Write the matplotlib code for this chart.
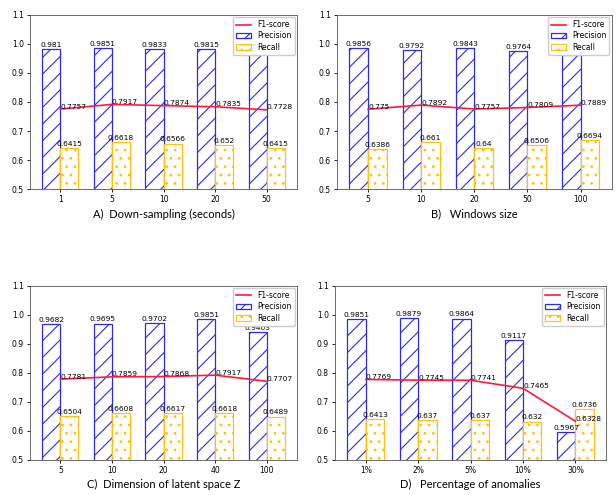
import numpy as np
import matplotlib.pyplot as plt

# panel A
a_ticks = ['1', '5', '10', '20', '50']
a_prec = [0.981, 0.9851, 0.9833, 0.9815, 0.975]
a_f1 = [0.7757, 0.7917, 0.7874, 0.7835, 0.7728]
a_rec = [0.6415, 0.6618, 0.6566, 0.652, 0.6415]

# panel B
b_ticks = ['5', '10', '20', '50', '100']
b_prec = [0.9856, 0.9792, 0.9843, 0.9764, 0.962]
b_f1 = [0.775, 0.7892, 0.7757, 0.7809, 0.7889]
b_rec = [0.6386, 0.661, 0.64, 0.6506, 0.6694]

# panel C
c_ticks = ['5', '10', '20', '40', '100']
c_prec = [0.9682, 0.9695, 0.9702, 0.9851, 0.9403]
c_f1 = [0.7781, 0.7859, 0.7868, 0.7917, 0.7707]
c_rec = [0.6504, 0.6608, 0.6617, 0.6618, 0.6489]

# panel D
d_ticks = ['1%', '2%', '5%', '10%', '30%']
d_prec = [0.9851, 0.9879, 0.9864, 0.9117, 0.5967]
d_f1 = [0.7769, 0.7745, 0.7741, 0.7465, 0.6328]
d_rec = [0.6413, 0.637, 0.637, 0.632, 0.6736]

titles = ['A)  Down-sampling (seconds)', 'B)   Windows size',
          'C)  Dimension of latent space Z', 'D)   Percentage of anomalies']

panels = [(a_ticks, a_prec, a_f1, a_rec),
          (b_ticks, b_prec, b_f1, b_rec),
          (c_ticks, c_prec, c_f1, c_rec),
          (d_ticks, d_prec, d_f1, d_rec)]

positions = [[0.049, 0.618, 0.433, 0.352],
             [0.547, 0.618, 0.446, 0.352],
             [0.049, 0.071, 0.433, 0.352],
             [0.544, 0.071, 0.440, 0.352]]

plt.rcParams['hatch.linewidth'] = 0.8
gold = '#FFC20E'
blue = '#2B2BE8'

fig = plt.figure(figsize=(6.16, 4.95), dpi=100)

for k in range(4):
    ticks, prec, f1, rec = panels[k]
    ax = fig.add_axes(positions[k])
    x = np.arange(len(ticks))
    w = 0.35
    bp = ax.bar(x, prec, width=-w, align='edge', color='white',
                edgecolor=blue, hatch='//', linewidth=0.9, label='Precision')
    br = ax.bar(x, rec, width=w, align='edge', color='white',
                edgecolor=gold, hatch='..', linewidth=0.9, label='Recall')
    ln, = ax.plot(x, f1, color='#FF1A3C', linewidth=1.2, label='F1-score', zorder=3)

    for i in range(len(x)):
        ax.text(x[i] - w / 2, prec[i] + 0.004, str(prec[i]), ha='center',
                va='bottom', fontsize=5.4)
        ax.text(x[i] + w / 2, rec[i] + 0.004, str(rec[i]), ha='center',
                va='bottom', fontsize=5.4)
        ax.text(x[i], f1[i] - 0.002, str(f1[i]), ha='left', va='bottom',
                fontsize=5.4)

    ax.set_ylim(0.5, 1.1)
    ax.set_yticks(np.arange(0.5, 1.11, 0.1))
    ax.set_yticklabels(['0.5', '0.6', '0.7', '0.8', '0.9', '1.0', '1.1'])
    ax.set_xticks(x)
    ax.set_xticklabels(ticks)
    ax.tick_params(labelsize=5.5, length=2.5, width=0.6, pad=2)
    for s in ax.spines.values():
        s.set_linewidth(0.6)
        s.set_color('#555555')
    ax.set_xlabel(titles[k], fontsize=8, family='Lato', labelpad=3)
    leg = ax.legend(handles=[ln, bp, br], loc='upper right', fontsize=5.5,
                    framealpha=1, borderpad=0.4, handlelength=2.0,
                    labelspacing=0.3, borderaxespad=0.3, fancybox=True)
    leg.set_zorder(10)

fig.savefig('out.png', dpi=100)
